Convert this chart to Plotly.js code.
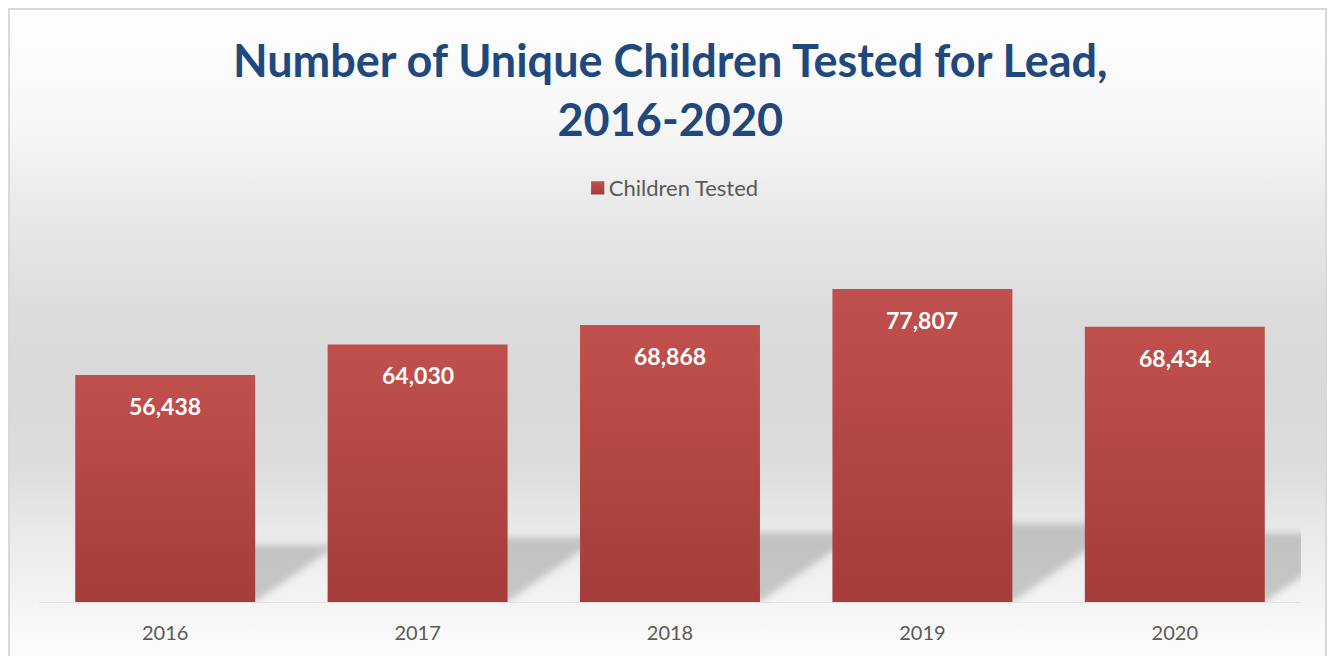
<!DOCTYPE html>
<html>
<head>
<meta charset="utf-8">
<script src="https://cdn.plot.ly/plotly-3.0.1.min.js"></script>
<style>
  html, body { margin: 0; padding: 0; background: #ffffff; }
  #wrap { position: relative; width: 1330px; height: 656px; overflow: hidden; background: #ffffff; }
  #frame {
    position: absolute; left: 8px; top: 8px; width: 1319px; height: 700px;
    border: 2px solid #d9d9d9; box-sizing: border-box;
    background: linear-gradient(to bottom, #ffffff 0px, #f6f6f6 120px, #e9e9e9 200px, #dcdcdc 300px, #d9d9d9 380px, #dddddd 460px, #e9e9e9 520px, #f2f2f2 580px, #fafafa 630px, #fcfcfc 700px);
  }
  #chart { position: absolute; left: 0; top: 0; width: 1330px; height: 656px; }
</style>
</head>
<body>
<div id="wrap">
  <div id="frame"></div>
  <div id="chart"></div>
</div>
<script>
const years = ['2016', '2017', '2018', '2019', '2020'];
const childrenTested = [56438, 64030, 68868, 77807, 68434];
const seriesName = 'Children Tested';
const titleText = 'Number of Unique Children Tested for Lead,<br>2016-2020';

const fmt = v => v.toLocaleString('en-US');

const trace = {
  type: 'bar',
  x: years,
  y: childrenTested,
  name: seriesName,
  marker: { color: '#B4463F' },
  width: 0.713,
  hoverinfo: 'x+y',
  showlegend: true
};

// annotation x uses the category index (category axis serial numbers)
const annotations = years.map((yr, i) => ({
  x: i, y: childrenTested[i], xref: 'x', yref: 'y',
  text: fmt(childrenTested[i]),
  showarrow: false, yanchor: 'middle', yshift: -31,
  font: { family: 'Lato, sans-serif', size: 23, color: '#ffffff', weight: 'bold' }
}));

const layout = {
  width: 1330, height: 656,
  margin: { l: 39, r: 29, t: 240, b: 54, pad: 0 },
  paper_bgcolor: 'rgba(0,0,0,0)',
  plot_bgcolor: 'rgba(0,0,0,0)',
  title: {
    text: titleText,
    x: 0.504, xanchor: 'center',
    y: 1 - 77 / 656, yref: 'container', yanchor: 'top',
    font: { family: 'Lato, sans-serif', size: 45, color: '#1F497D', weight: 'bold' }
  },
  showlegend: true,
  legend: {
    orientation: 'h', x: 0.497, xanchor: 'center', y: 1 - 188 / 656, yref: 'container', yanchor: 'middle',
    font: { family: 'Lato, sans-serif', size: 22, color: '#595959' },
    bgcolor: 'rgba(0,0,0,0)'
  },
  xaxis: {
    type: 'category', range: [-0.5, 4.5],
    showgrid: false, zeroline: false,
    showline: true, linecolor: '#e2e2e2', linewidth: 1,
    ticks: '', ticklen: 0,
    tickfont: { family: 'Lato, sans-serif', size: 20, color: '#595959' },
    ticklabelstandoff: 13
  },
  yaxis: {
    range: [0, 90000], visible: false, showgrid: false, zeroline: false
  },
  annotations: annotations,
  bargap: 0.287
};

Plotly.newPlot('chart', [trace], layout, { staticPlot: true, displayModeBar: false }).then(() => {
  const svg = document.querySelector('#chart .main-svg');
  const ns = 'http://www.w3.org/2000/svg';
  let defs = svg.querySelector('defs');
  if (!defs) { defs = document.createElementNS(ns, 'defs'); svg.insertBefore(defs, svg.firstChild); }

  // bar gradient
  const grad = document.createElementNS(ns, 'linearGradient');
  grad.setAttribute('id', 'barGrad');
  grad.setAttribute('x1', '0'); grad.setAttribute('y1', '0');
  grad.setAttribute('x2', '0'); grad.setAttribute('y2', '1');
  [['0%', '#C0504D'], ['100%', '#A53D3B']].forEach(([o, c]) => {
    const s = document.createElementNS(ns, 'stop');
    s.setAttribute('offset', o); s.setAttribute('stop-color', c);
    grad.appendChild(s);
  });
  defs.appendChild(grad);

  // soft blur for the perspective shadows
  const filt = document.createElementNS(ns, 'filter');
  filt.setAttribute('id', 'shadowBlur');
  filt.setAttribute('x', '-20%'); filt.setAttribute('y', '-20%');
  filt.setAttribute('width', '140%'); filt.setAttribute('height', '140%');
  const blur = document.createElementNS(ns, 'feGaussianBlur');
  blur.setAttribute('stdDeviation', '3.5');
  filt.appendChild(blur);
  defs.appendChild(filt);

  const barPaths = Array.from(document.querySelectorAll('#chart .bars .point path'));
  barPaths.forEach(p => {
    const bb = p.getBBox();
    const pointG = p.parentNode;
    const pointsG = pointG.parentNode;
    const sh = bb.height * 0.25;
    const dx = sh * 1.43;
    const yb = bb.y + bb.height;
    const poly = document.createElementNS(ns, 'polygon');
    poly.setAttribute('points', [
      [bb.x, yb], [bb.x + bb.width, yb],
      [bb.x + bb.width + dx, yb - sh], [bb.x + dx, yb - sh]
    ].map(q => q.join(',')).join(' '));
    poly.setAttribute('fill', '#9a9a9a');
    poly.setAttribute('fill-opacity', '0.5');
    poly.setAttribute('filter', 'url(#shadowBlur)');
    pointsG.insertBefore(poly, pointsG.firstChild);
    p.style.fill = 'url(#barGrad)';
  });

  document.querySelectorAll('#chart .legend .legendpoints').forEach(g => {
    g.setAttribute('transform', 'translate(7,0) scale(1.1)');
    g.querySelectorAll('path').forEach(p => { p.style.fill = 'url(#barGrad)'; });
  });
});
</script>
</body>
</html>
